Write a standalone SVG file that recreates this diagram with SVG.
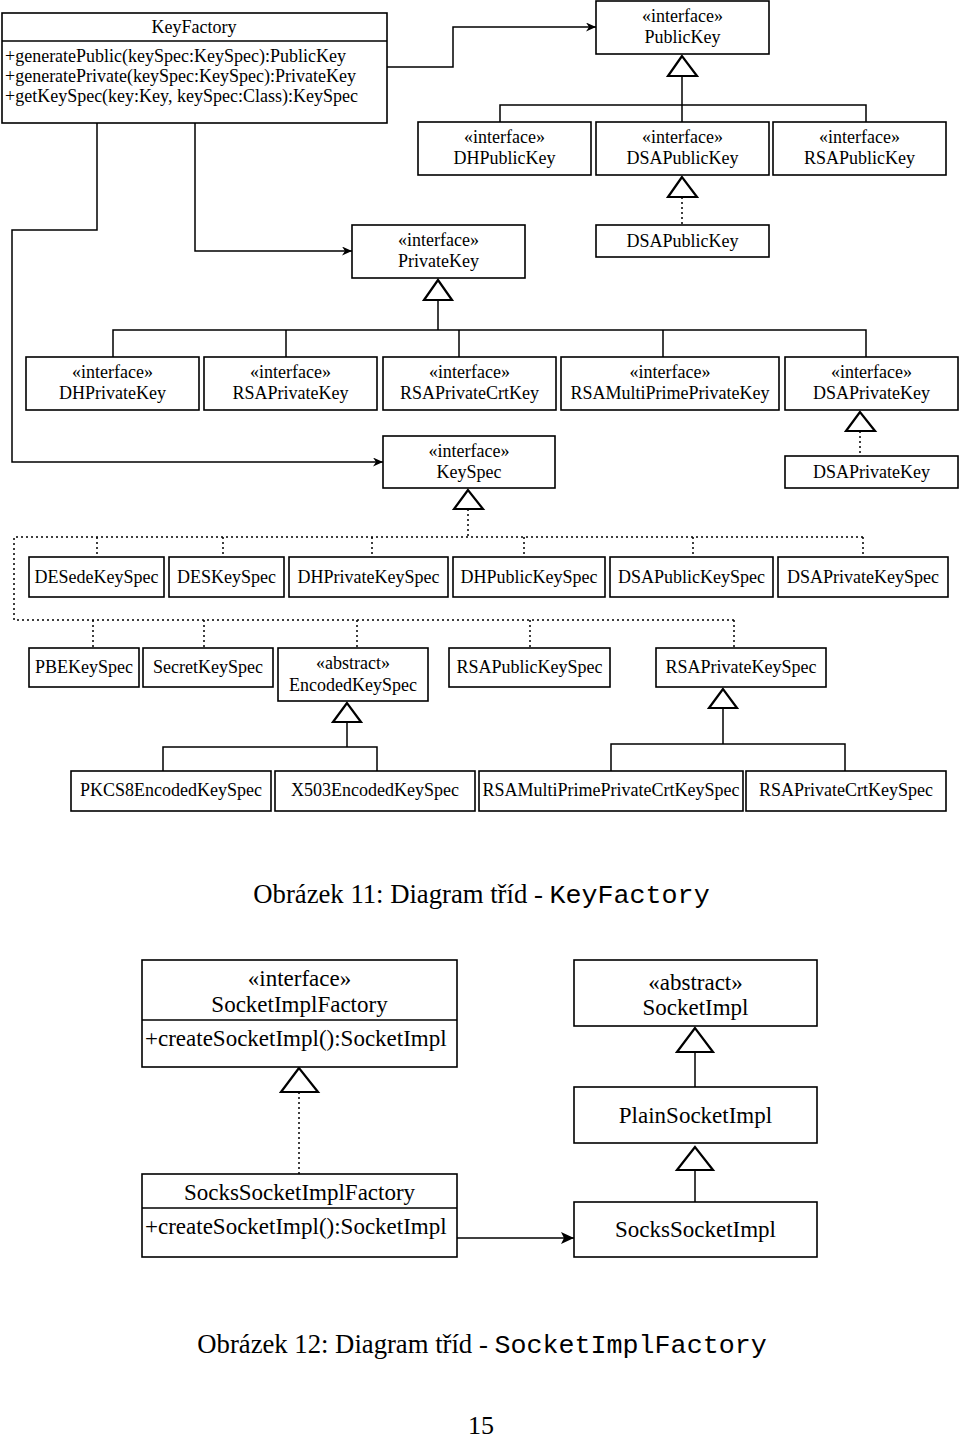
<svg xmlns="http://www.w3.org/2000/svg" width="960" height="1442" viewBox="0 0 960 1442">
<style>
.box{fill:#fff;stroke:#000;stroke-width:1.6}
.ln{fill:none;stroke:#000;stroke-width:1.5}
.dot{fill:none;stroke:#000;stroke-width:1.5;stroke-dasharray:2 3}
.tri{fill:#fff;stroke:#000;stroke-width:2.2}
.t{font-family:"Liberation Serif","Times New Roman",serif;font-size:18px;fill:#000;text-anchor:middle}
.tl{font-family:"Liberation Serif","Times New Roman",serif;font-size:18px;fill:#000}
.t2{font-family:"Liberation Serif","Times New Roman",serif;font-size:23px;fill:#000;text-anchor:middle}
.t2l{font-family:"Liberation Serif","Times New Roman",serif;font-size:23px;fill:#000}
.cap{font-family:"Liberation Serif","Times New Roman",serif;font-size:26.7px;fill:#000;text-anchor:middle}
.mono{font-family:"Liberation Mono","Courier New",monospace}
</style>
<defs>
<marker id="arr" markerUnits="userSpaceOnUse" markerWidth="10" markerHeight="9" refX="10" refY="4.5" orient="auto">
<path d="M0,0 L10,4.5 L0,9 L3,4.5 Z" fill="#000"/>
</marker>
<marker id="arr2" markerUnits="userSpaceOnUse" markerWidth="13" markerHeight="12" refX="13" refY="6" orient="auto">
<path d="M0,0 L13,6 L0,12 L3,6 Z" fill="#000"/>
</marker>
</defs>
<rect width="960" height="1442" fill="#fff"/>

<g id="connectors">
<polyline class="ln" points="387,67 453,67 453,27 596,27" marker-end="url(#arr)"/>
<polyline class="ln" points="195,123 195,251 352,251" marker-end="url(#arr)"/>
<polyline class="ln" points="97,123 97,230 12,230 12,462 383,462" marker-end="url(#arr)"/>
<line class="ln" x1="682" y1="76" x2="682" y2="122"/>
<polyline class="ln" points="500,122 500,105 866,105 866,122"/>
<polygon class="tri" points="682,56 668,76 697,76"/>
<line class="dot" x1="682" y1="197" x2="682" y2="225"/>
<polygon class="tri" points="682,177 668,197 697,197"/>
<line class="ln" x1="438" y1="300" x2="438" y2="330"/>
<polyline class="ln" points="113,357 113,330 866,330 866,357"/>
<line class="ln" x1="286" y1="330" x2="286" y2="357"/>
<line class="ln" x1="459" y1="330" x2="459" y2="357"/>
<line class="ln" x1="663" y1="330" x2="663" y2="357"/>
<polygon class="tri" points="438,280 424,300 452,300"/>
<line class="dot" x1="860" y1="431" x2="860" y2="456"/>
<polygon class="tri" points="860,412 846,431 875,431"/>
<line class="dot" x1="468" y1="509" x2="468" y2="537"/>
<polyline class="dot" points="863,537 14,537 14,620 734,620"/>
<line class="dot" x1="97" y1="537" x2="97" y2="557"/>
<line class="dot" x1="223" y1="537" x2="223" y2="557"/>
<line class="dot" x1="372" y1="537" x2="372" y2="557"/>
<line class="dot" x1="524" y1="537" x2="524" y2="557"/>
<line class="dot" x1="693" y1="537" x2="693" y2="557"/>
<line class="dot" x1="863" y1="537" x2="863" y2="557"/>
<line class="dot" x1="93" y1="620" x2="93" y2="648"/>
<line class="dot" x1="204" y1="620" x2="204" y2="648"/>
<line class="dot" x1="357" y1="620" x2="357" y2="648"/>
<line class="dot" x1="530" y1="620" x2="530" y2="648"/>
<line class="dot" x1="734" y1="620" x2="734" y2="648"/>
<polygon class="tri" points="468,490 454,509 483,509"/>
<line class="ln" x1="347" y1="722" x2="347" y2="747"/>
<polyline class="ln" points="163,771 163,747 377,747 377,771"/>
<polygon class="tri" points="347,703 333,722 361,722"/>
<line class="ln" x1="723" y1="708" x2="723" y2="744"/>
<polyline class="ln" points="611,771 611,744 845,744 845,771"/>
<polygon class="tri" points="723,689 709,708 737,708"/>
<line class="dot" x1="299" y1="1092" x2="299" y2="1174"/>
<polygon class="tri" points="299,1068 281,1092 318,1092"/>
<line class="ln" x1="695" y1="1052" x2="695" y2="1087"/>
<polygon class="tri" points="695,1028 677,1052 713,1052"/>
<line class="ln" x1="695" y1="1170" x2="695" y2="1202"/>
<polygon class="tri" points="695,1147 677,1170 713,1170"/>
<line class="ln" x1="457" y1="1238" x2="574" y2="1238" marker-end="url(#arr2)"/>
</g>

<g id="KeyFactory">
<rect class="box" x="2" y="13" width="385" height="110"/>
<line class="ln" x1="2" y1="41" x2="387" y2="41"/>
<text class="t" x="194" y="33">KeyFactory</text>
<text class="tl" x="5" y="62">+generatePublic(keySpec:KeySpec):PublicKey</text>
<text class="tl" x="5" y="82">+generatePrivate(keySpec:KeySpec):PrivateKey</text>
<text class="tl" x="5" y="102">+getKeySpec(key:Key, keySpec:Class):KeySpec</text>
</g>
<g id="PublicKey"><rect class="box" x="596" y="1" width="173" height="53"/><text class="t" x="682.5" y="22">«interface»</text><text class="t" x="682.5" y="43">PublicKey</text></g>
<g id="DHPublicKey"><rect class="box" x="418" y="122" width="173" height="53"/><text class="t" x="504.5" y="143">«interface»</text><text class="t" x="504.5" y="164">DHPublicKey</text></g>
<g id="DSAPublicKeyIface"><rect class="box" x="596" y="122" width="173" height="53"/><text class="t" x="682.5" y="143">«interface»</text><text class="t" x="682.5" y="164">DSAPublicKey</text></g>
<g id="RSAPublicKey"><rect class="box" x="773" y="122" width="173" height="53"/><text class="t" x="859.5" y="143">«interface»</text><text class="t" x="859.5" y="164">RSAPublicKey</text></g>
<g id="DSAPublicKeyClass"><rect class="box" x="596" y="225" width="173" height="32"/><text class="t" x="682.5" y="247">DSAPublicKey</text></g>
<g id="PrivateKey"><rect class="box" x="352" y="225" width="173" height="53"/><text class="t" x="438.5" y="246">«interface»</text><text class="t" x="438.5" y="267">PrivateKey</text></g>
<g id="DHPrivateKey"><rect class="box" x="26" y="357" width="173" height="53"/><text class="t" x="112.5" y="378">«interface»</text><text class="t" x="112.5" y="399">DHPrivateKey</text></g>
<g id="RSAPrivateKey"><rect class="box" x="204" y="357" width="173" height="53"/><text class="t" x="290.5" y="378">«interface»</text><text class="t" x="290.5" y="399">RSAPrivateKey</text></g>
<g id="RSAPrivateCrtKey"><rect class="box" x="383" y="357" width="173" height="53"/><text class="t" x="469.5" y="378">«interface»</text><text class="t" x="469.5" y="399">RSAPrivateCrtKey</text></g>
<g id="RSAMultiPrimePrivateKey"><rect class="box" x="561" y="357" width="218" height="53"/><text class="t" x="670" y="378">«interface»</text><text class="t" x="670" y="399">RSAMultiPrimePrivateKey</text></g>
<g id="DSAPrivateKeyIface"><rect class="box" x="785" y="357" width="173" height="53"/><text class="t" x="871.5" y="378">«interface»</text><text class="t" x="871.5" y="399">DSAPrivateKey</text></g>
<g id="DSAPrivateKeyClass"><rect class="box" x="785" y="456" width="173" height="32"/><text class="t" x="871.5" y="478">DSAPrivateKey</text></g>
<g id="KeySpec"><rect class="box" x="383" y="436" width="172" height="52"/><text class="t" x="469" y="457">«interface»</text><text class="t" x="469" y="478">KeySpec</text></g>

<g id="DESedeKeySpec"><rect class="box" x="29" y="557" width="135" height="40"/><text class="t" x="96.5" y="583">DESedeKeySpec</text></g>
<g id="DESKeySpec"><rect class="box" x="169" y="557" width="115" height="40"/><text class="t" x="226.5" y="583">DESKeySpec</text></g>
<g id="DHPrivateKeySpec"><rect class="box" x="289" y="557" width="159" height="40"/><text class="t" x="368.5" y="583">DHPrivateKeySpec</text></g>
<g id="DHPublicKeySpec"><rect class="box" x="453" y="557" width="152" height="40"/><text class="t" x="529" y="583">DHPublicKeySpec</text></g>
<g id="DSAPublicKeySpec"><rect class="box" x="610" y="557" width="163" height="40"/><text class="t" x="691.5" y="583">DSAPublicKeySpec</text></g>
<g id="DSAPrivateKeySpec"><rect class="box" x="778" y="557" width="170" height="40"/><text class="t" x="863" y="583">DSAPrivateKeySpec</text></g>

<g id="PBEKeySpec"><rect class="box" x="29" y="648" width="110" height="39"/><text class="t" x="84" y="673">PBEKeySpec</text></g>
<g id="SecretKeySpec"><rect class="box" x="143" y="648" width="130" height="39"/><text class="t" x="208" y="673">SecretKeySpec</text></g>
<g id="EncodedKeySpec"><rect class="box" x="278" y="648" width="150" height="53"/><text class="t" x="353" y="669">«abstract»</text><text class="t" x="353" y="691">EncodedKeySpec</text></g>
<g id="RSAPublicKeySpec"><rect class="box" x="449" y="648" width="161" height="39"/><text class="t" x="529.5" y="673">RSAPublicKeySpec</text></g>
<g id="RSAPrivateKeySpec"><rect class="box" x="656" y="648" width="170" height="39"/><text class="t" x="741" y="673">RSAPrivateKeySpec</text></g>

<g id="PKCS8EncodedKeySpec"><rect class="box" x="71" y="771" width="200" height="40"/><text class="t" x="171" y="796">PKCS8EncodedKeySpec</text></g>
<g id="X503EncodedKeySpec"><rect class="box" x="275" y="771" width="200" height="40"/><text class="t" x="375" y="796">X503EncodedKeySpec</text></g>
<g id="RSAMultiPrimePrivateCrtKeySpec"><rect class="box" x="479" y="771" width="264" height="40"/><text class="t" x="611" y="796">RSAMultiPrimePrivateCrtKeySpec</text></g>
<g id="RSAPrivateCrtKeySpec"><rect class="box" x="746" y="771" width="200" height="40"/><text class="t" x="846" y="796">RSAPrivateCrtKeySpec</text></g>

<g id="caption11"><text class="cap" x="481.5" y="903">Obrázek 11: Diagram tříd - <tspan class="mono">KeyFactory</tspan></text></g>

<g id="SocketImplFactory">
<rect class="box" x="142" y="960" width="315" height="107"/>
<line class="ln" x1="142" y1="1020" x2="457" y2="1020"/>
<text class="t2" x="299.5" y="986">«interface»</text>
<text class="t2" x="299.5" y="1012">SocketImplFactory</text>
<text class="t2l" x="145" y="1046">+createSocketImpl():SocketImpl</text>
</g>
<g id="SocksSocketImplFactory">
<rect class="box" x="142" y="1174" width="315" height="83"/>
<line class="ln" x1="142" y1="1208" x2="457" y2="1208"/>
<text class="t2" x="299.5" y="1200">SocksSocketImplFactory</text>
<text class="t2l" x="145" y="1234">+createSocketImpl():SocketImpl</text>
</g>
<g id="SocketImpl"><rect class="box" x="574" y="960" width="243" height="66"/><text class="t2" x="695.5" y="990">«abstract»</text><text class="t2" x="695.5" y="1015">SocketImpl</text></g>
<g id="PlainSocketImpl"><rect class="box" x="574" y="1087" width="243" height="56"/><text class="t2" x="695.5" y="1123">PlainSocketImpl</text></g>
<g id="SocksSocketImpl"><rect class="box" x="574" y="1202" width="243" height="55"/><text class="t2" x="695.5" y="1237">SocksSocketImpl</text></g>

<g id="caption12"><text class="cap" x="482" y="1353">Obrázek 12: Diagram tříd - <tspan class="mono">SocketImplFactory</tspan></text></g>
<g id="pagenum"><text class="cap" x="481" y="1434" style="font-size:26px">15</text></g>
</svg>
